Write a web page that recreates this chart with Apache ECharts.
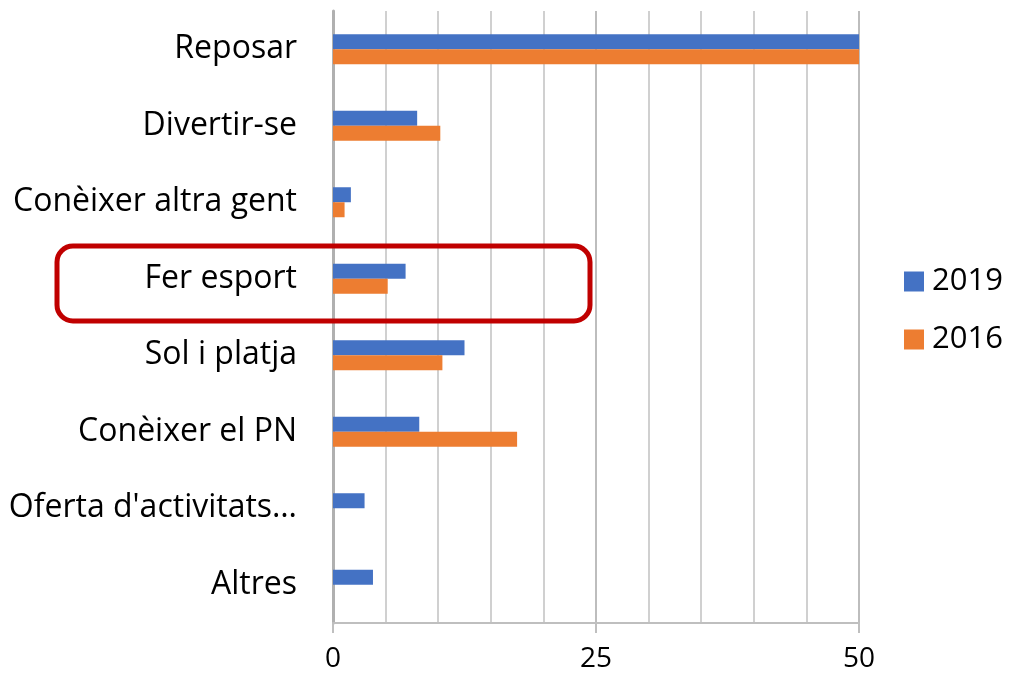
<!DOCTYPE html>
<html>
<head>
<meta charset="utf-8">
<script src="https://cdn.jsdelivr.net/npm/echarts@6/dist/echarts.min.js"></script>
<style>
  html, body { margin: 0; padding: 0; background: #fff; }
  #chart { width: 1009px; height: 678px; }
</style>
</head>
<body>
<div id="chart"></div>
<script>
// dades (de dalt a baix)
var categories = ['Reposar', 'Divertir-se', 'Conèixer altra gent', 'Fer esport',
                  'Sol i platja', 'Conèixer el PN', "Oferta d'activitats…", 'Altres'];
var values2019 = [50, 8.0, 1.7, 6.9, 12.5, 8.2, 3.0, 3.8];
var values2016 = [50, 10.2, 1.1, 5.2, 10.4, 17.5, 0, 0];
var axisTicks = [0, 25, 50];

var font = 'Open Sans';
var chart = echarts.init(document.getElementById('chart'));

var option = {
    animation: false,
    textStyle: { fontFamily: font },
    grid: { left: 333, right: 150, top: 11, bottom: 55 },
    legend: {
        orient: 'vertical',
        left: 899,
        top: 261,
        itemWidth: 20,
        itemHeight: 20,
        itemGap: 27,
        icon: 'rect',
        textStyle: { fontSize: 31, color: '#000', fontFamily: font, padding: [0, 0, 0, 3] },
        data: ['2019', '2016']
    },
    xAxis: [{
        // línies de la graella cada 5
        type: 'value', min: 0, max: 50, interval: 5,
        axisLabel: { show: false },
        axisTick: { show: false },
        axisLine: { show: true, lineStyle: { color: '#bfbfbf', width: 2 } },
        splitLine: { show: true, lineStyle: { color: '#d0d0d0', width: 2 } }
    }, {
        // marques i etiquetes a 0, 25, 50
        type: 'value', position: 'bottom', min: axisTicks[0], max: axisTicks[2], interval: 25,
        axisLine: { show: false },
        axisTick: { show: true, length: 10, lineStyle: { color: '#bfbfbf', width: 2 } },
        axisLabel: { fontSize: 28, color: '#000', margin: 22, fontFamily: font },
        splitLine: { show: true, lineStyle: { color: '#bdbdbd', width: 2 } }
    }],
    yAxis: {
        type: 'category',
        inverse: true,
        data: categories,
        axisTick: { show: false },
        axisLine: { show: true, lineStyle: { color: '#b0b0b0', width: 3 } },
        axisLabel: { fontSize: 32, color: '#000', margin: 36, fontFamily: font }
    },
    series: [{
        name: '2019',
        type: 'bar',
        data: values2019,
        barWidth: 15,
        barGap: '0%',
        itemStyle: { color: '#4472C4' }
    }, {
        name: '2016',
        type: 'bar',
        data: values2016,
        barWidth: 15,
        itemStyle: { color: '#ED7D31' }
    }],
    graphic: [{
        // requadre vermell al voltant de "Fer esport"
        type: 'rect',
        shape: { x: 57, y: 246, width: 533, height: 75, r: 16 },
        style: { fill: 'none', stroke: '#C00000', lineWidth: 5 },
        z: 100
    }]
};

chart.setOption(option);
</script>
</body>
</html>
